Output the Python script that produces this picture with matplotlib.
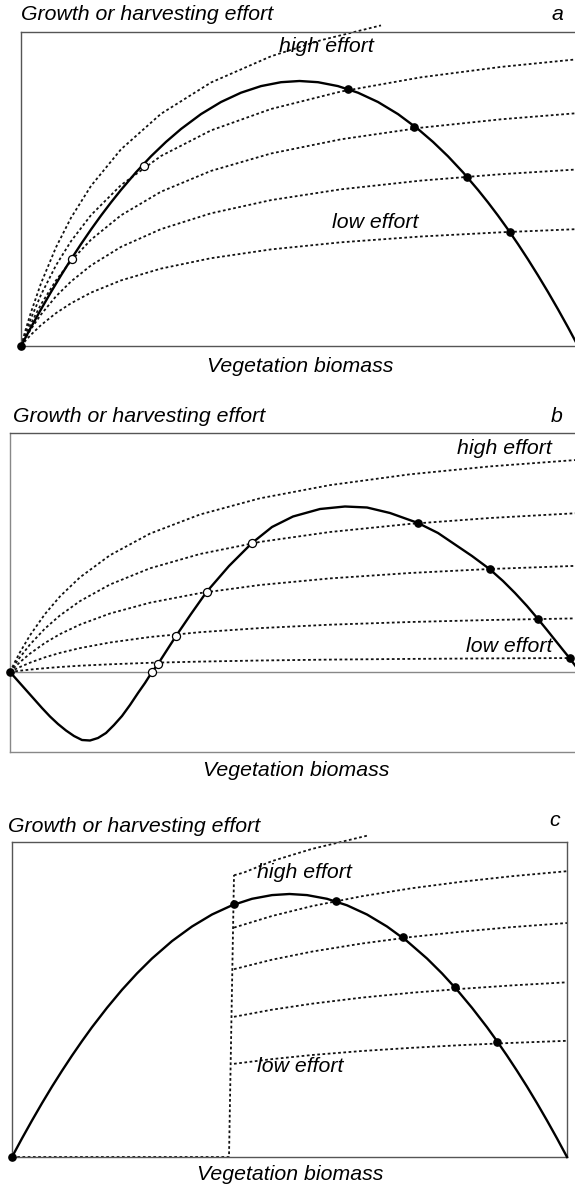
import matplotlib.pyplot as plt

plt.rcParams["font.family"] = ["Liberation Sans", "DejaVu Sans"]
plt.rcParams["font.style"] = "italic"

W, H = 575, 1189

# ---- panel a: logistic growth, saturating harvest curves ----
a_growth_x = [0, 10, 20, 30, 40, 50, 60, 70, 80, 90, 100, 115, 130, 145, 160, 180, 200, 220, 240, 260,
              278.5, 297, 317, 337, 357, 377, 397, 412, 427, 442, 457, 467, 477, 487, 497, 507, 517,
              527, 537, 547, 557]
a_growth_y = [0, 18.7, 36.7, 54.0, 70.6, 86.6, 101.9, 116.5, 130.4, 143.6, 156.1, 173.7, 189.7, 204.1,
              217.0, 231.9, 244.0, 253.3, 259.9, 263.8, 265.0, 263.8, 259.9, 253.3, 244.0, 231.9, 217.0,
              204.1, 189.7, 173.7, 156.1, 143.6, 130.4, 116.5, 101.9, 86.6, 70.6, 54.0, 36.7, 18.7, 0]

a_effort_x = [0, 5, 10, 20, 35, 50, 70, 100, 140, 190, 250, 320, 400, 480, 557]
a_effort_top_x = [0, 5, 10, 20, 35, 50, 70, 100, 140, 190, 250, 300, 360]
a_effort_top_y = [0, 17.6, 33.8, 62.7, 98.7, 128.2, 160.1, 196.7, 232.2, 263.5, 289.7, 305.8, 320.6]
a_effort_y = [
    [0, 14.4, 27.7, 51.2, 80.7, 104.8, 130.9, 160.9, 190.0, 215.6, 237.0, 254.5, 268.7, 279.1, 286.8],
    [0, 11.7, 22.5, 41.6, 65.6, 85.1, 106.3, 130.7, 154.3, 175.1, 192.5, 206.7, 218.3, 226.7, 232.9],
    [0, 8.9, 17.0, 31.5, 49.7, 64.5, 80.6, 99.1, 116.9, 132.7, 145.9, 156.7, 165.4, 171.8, 176.6],
    [0, 5.9, 11.3, 20.9, 32.9, 42.7, 53.4, 65.6, 77.4, 87.8, 96.6, 103.7, 109.5, 113.7, 116.9],
]
a_stable_x = [0, 326.6, 392.6, 445.8, 488.7]
a_stable_y = [0, 257, 219.3, 169.3, 114.3]
a_unstable_x = [123, 50.9]
a_unstable_y = [180, 87.3]

# ---- panel b: growth with Allee effect ----
b_growth_x = [0, 8, 16, 24, 32, 40, 48, 56, 64, 72, 80, 88, 96, 104, 112, 120, 128, 135, 142, 148,
              157, 166, 181, 196.5, 219, 242, 262, 283, 310, 335, 357, 380, 408, 428, 445, 462, 479.5,
              493, 505, 517, 528, 537, 545, 553, 559.5, 570]
b_growth_y = [0, -9, -18, -27, -36, -44.5, -52, -58.5, -64, -68, -68.5, -66, -61, -53, -44, -33, -21,
              -11, 0, 8, 22, 36, 58, 80, 106, 129, 145, 155.5, 163, 165.5, 164.5, 159, 149, 139, 127.5,
              116, 103, 91, 79, 66, 53, 42, 32, 22, 14, 0]

b_effort_x = [0, 5, 10, 20, 35, 50, 70, 100, 140, 190, 250, 320, 400, 480, 570]
b_effort_y = [
    [0, 10.3, 19.8, 36.7, 58.0, 75.6, 94.7, 116.8, 138.4, 157.5, 173.7, 186.9, 197.7, 205.6, 212.3],
    [0, 7.7, 14.8, 27.5, 43.5, 56.6, 70.9, 87.5, 103.7, 118.0, 130.1, 140.0, 148.1, 154.0, 159.0],
    [0, 5.1, 9.9, 18.4, 29.1, 37.9, 47.4, 58.5, 69.3, 78.9, 87.0, 93.6, 99.0, 103.0, 106.3],
    [0, 2.6, 5.0, 9.3, 14.7, 19.1, 23.9, 29.5, 35.0, 39.8, 43.9, 47.3, 50.0, 52.0, 53.7],
    [0, 0.7, 1.3, 2.4, 3.8, 5.0, 6.3, 7.7, 9.2, 10.4, 11.5, 12.4, 13.1, 13.6, 14.0],
]
b_stable_x = [0, 408, 479.5, 528, 559.5]
b_stable_y = [0, 149, 103, 53, 14]
b_unstable_x = [242, 196.5, 166, 147.7, 142]
b_unstable_y = [129, 80, 36.3, 8, 0]

# ---- panel c: harvesting only above a threshold biomass ----
c_growth_x = [0, 10, 20, 30, 40, 50, 60, 70, 80, 95, 110, 125, 140, 160, 180, 200, 220, 240, 260,
              277.5, 295, 315, 335, 355, 375, 395, 415, 430, 445, 460, 475, 485, 495, 505, 515, 525,
              535, 545, 555]
c_growth_y = [0, 18.6, 36.5, 53.8, 70.4, 86.2, 101.4, 115.9, 129.8, 149.2, 167.2, 183.6, 198.5, 215.9,
              230.5, 242.5, 251.7, 258.2, 261.9, 263, 261.9, 258.2, 251.7, 242.5, 230.5, 215.9, 198.5,
              183.6, 167.2, 149.2, 129.8, 115.9, 101.4, 86.2, 70.4, 53.8, 36.5, 18.6, 0]

c_threshold_x = [0, 217, 222]
c_threshold_y = [0, 0, 282]
c_effort_top_x = [222, 232, 260, 300, 355]
c_effort_top_y = [281.7, 284.5, 295.9, 308.1, 321.3]
c_effort_x = [222, 260, 300, 350, 400, 450, 500, 555]
c_effort_y = [
    [229.4, 241.0, 250.9, 260.8, 268.8, 275.3, 280.8, 285.8],
    [187.8, 197.3, 205.4, 213.5, 220.1, 225.4, 229.9, 234.0],
    [140.2, 147.3, 153.3, 159.4, 164.3, 168.2, 171.6, 174.7],
    [93.2, 97.9, 102.0, 106.0, 109.2, 111.9, 114.1, 116.2],
]
c_stable_x = [0, 221.6, 324.3, 391.4, 442.7, 484.9]
c_stable_y = [0, 253, 256.3, 219.7, 169.7, 115.3]

DOT = dict(color="#111111", lw=1.3, linestyle=(0, (1.5, 1.4)), clip_on=False)
SOLID = dict(color="black", lw=1.7, clip_on=False, zorder=3)
FILLED = dict(marker="o", ms=5.2, color="black", ls="none", clip_on=False, zorder=5)
OPEN = dict(marker="o", ms=5.8, mfc="white", mec="black", mew=0.9, ls="none", clip_on=False, zorder=5)
FS = 15.3

fig = plt.figure(figsize=(W / 100, H / 100), dpi=100)


def add_panel(left, top, right, bottom, xlim, ylim):
    ax = fig.add_axes([left / W, 1 - bottom / H, (right - left) / W, (bottom - top) / H])
    ax.set_xlim(xlim)
    ax.set_ylim(ylim)
    ax.set_xticks([])
    ax.set_yticks([])
    for s in ax.spines.values():
        s.set_color("#555555")
        s.set_linewidth(1.0)
    return ax


def fig_text(x, y, s, **kw):
    fig.text(x / W, 1 - y / H, s, fontsize=FS, va="center", **kw)


# panel a
ax = add_panel(21, 32, 578, 346, (0, 557), (0, 314))
ax.plot(a_effort_top_x, a_effort_top_y, **DOT)
for ys in a_effort_y:
    ax.plot(a_effort_x, ys, **DOT)
ax.plot(a_growth_x, a_growth_y, **SOLID)
ax.plot(a_stable_x, a_stable_y, **FILLED)
ax.plot(a_unstable_x, a_unstable_y, **OPEN)
ax.text(258, 299, "high effort", fontsize=FS, va="center", ha="left")
ax.text(311, 123, "low effort", fontsize=FS, va="center", ha="left")
fig_text(21, 15, "Growth or harvesting effort", ha="left")
fig_text(557, 15, "a", ha="center")
fig_text(300, 366, "Vegetation biomass", ha="center")

# panel b
ax = add_panel(10, 433, 580, 752, (0, 570), (-80, 239))
ax.spines["left"].set_color("#888888")
ax.spines["bottom"].set_color("#888888")
ax.axhline(0, color="#888888", lw=1.0)
for ys in b_effort_y:
    ax.plot(b_effort_x, ys, **DOT)
ax.plot(b_growth_x, b_growth_y, **SOLID)
ax.plot(b_stable_x, b_stable_y, **FILLED)
ax.plot(b_unstable_x, b_unstable_y, **OPEN)
ax.text(542, 223, "high effort", fontsize=FS, va="center", ha="right")
ax.text(542, 25, "low effort", fontsize=FS, va="center", ha="right")
fig_text(13, 417, "Growth or harvesting effort", ha="left")
fig_text(557, 417, "b", ha="center")
fig_text(296, 771, "Vegetation biomass", ha="center")

# panel c
ax = add_panel(12, 842, 567, 1157, (0, 555), (0, 315))
ax.plot(c_threshold_x, c_threshold_y, **DOT)
ax.plot(c_effort_top_x, c_effort_top_y, **DOT)
for ys in c_effort_y:
    ax.plot(c_effort_x, ys, **DOT)
ax.plot(c_growth_x, c_growth_y, **SOLID)
ax.plot(c_stable_x, c_stable_y, **FILLED)
ax.text(245, 284, "high effort", fontsize=FS, va="center", ha="left")
ax.text(245, 91, "low effort", fontsize=FS, va="center", ha="left")
fig_text(8, 826, "Growth or harvesting effort", ha="left")
fig_text(555, 820, "c", ha="center")
fig_text(290, 1174, "Vegetation biomass", ha="center")

fig.savefig("out.png", dpi=100)
